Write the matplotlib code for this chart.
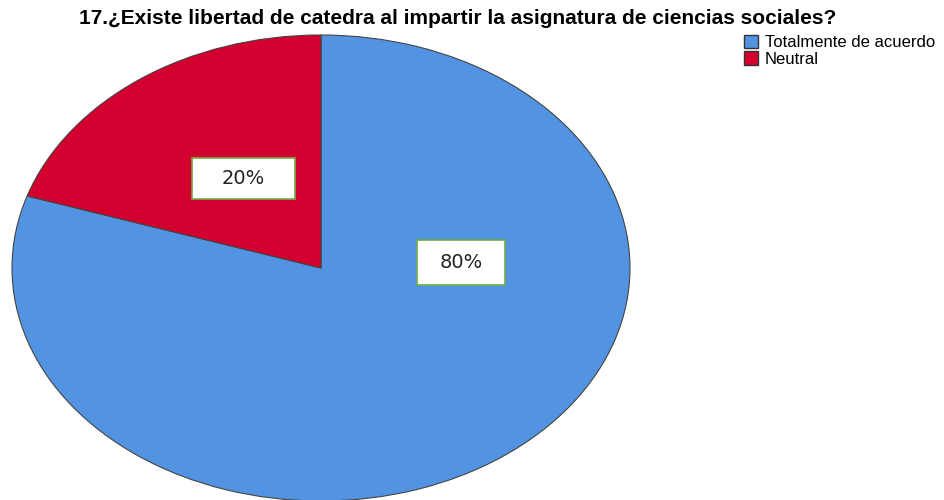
import matplotlib.pyplot as plt
from matplotlib.patches import Patch, Rectangle

categories = ["Totalmente de acuerdo", "Neutral"]
values = [80, 20]
pct_labels = ["80%", "20%"]
colors = ["#5294E2", "#D3002F"]

plt.rcParams["font.family"] = ["Liberation Sans", "DejaVu Sans"]

fig = plt.figure(figsize=(9.45, 5.0), dpi=100)

# ellipse box in pixels: center (321, 268), radii 309 x 233
ax = fig.add_axes([12 / 945, -1 / 500, 618 / 945, 466 / 500])
wedges, _ = ax.pie(values, colors=colors, startangle=90, counterclock=False,
                   radius=1, wedgeprops=dict(edgecolor="#444444", linewidth=0.8))
ax.set_aspect("auto")
ax.set_xlim(-1, 1)
ax.set_ylim(-1, 1)

# label boxes (SPSS places them freely); centre and size in pixels
px, py = 2 / 618, 2 / 466
label_boxes = [((461, 262), (88, 45)), ((243.5, 178.5), (103, 41))]
for ((cx, cy), (w, h)), txt in zip(label_boxes, pct_labels):
    x = (cx - 321) * px
    y = (268 - cy) * py
    ax.add_patch(Rectangle((x - w * px / 2, y - h * py / 2), w * px, h * py,
                           fc="white", ec="#70AD47", lw=1.2, zorder=3))
    ax.text(x, y, txt, ha="center", va="center", fontsize=14,
            family=["DejaVu Sans"], color="#222222", zorder=4)

fig.text(458 / 945, 1 - 18 / 500,
         "17.¿Existe libertad de catedra al impartir la asignatura de ciencias sociales?",
         ha="center", va="center", fontsize=15, fontweight="bold")

handles = [Patch(facecolor=c, edgecolor="#333333", label=l) for c, l in zip(colors, categories)]
fig.legend(handles=handles, loc="upper left", bbox_to_anchor=(744 / 945, 1 - 35 / 500),
           frameon=False, fontsize=12, handlelength=0.85, handleheight=0.85,
           handletextpad=0.4, labelspacing=0.05, borderaxespad=0, borderpad=0)

fig.savefig("out.png", dpi=100)
